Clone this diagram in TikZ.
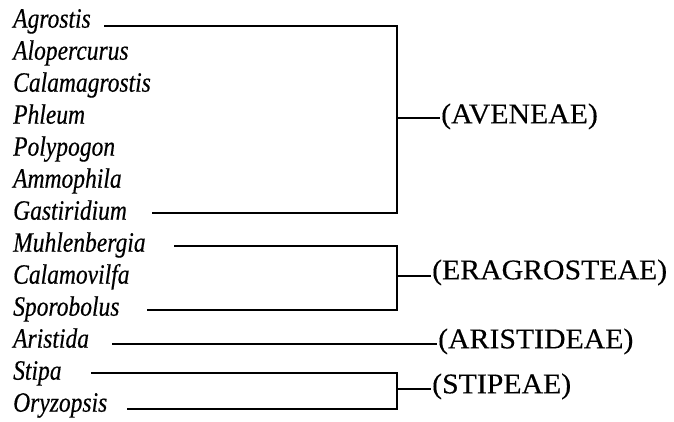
\documentclass[tikz,border=0pt]{standalone}
\usepackage{fontspec}
\setmainfont{Liberation Serif}
\newfontfamily\genusfont{Liberation Serif}[FakeStretch=0.84,FakeBold=0.4]
\newfontfamily\tribefont{Liberation Serif}[FakeStretch=1.045,FakeBold=0.3]
\begin{document}
\begin{tikzpicture}[x=1pt,y=-1pt,
  genus/.style={anchor=base west,inner sep=0pt,font=\genusfont\fontsize{28}{30}\selectfont\itshape},
  tribe/.style={anchor=base west,inner sep=2pt,font=\tribefont\fontsize{28.5}{32}\selectfont},
  link/.style={line width=1.6pt,line cap=rect}]
\useasboundingbox (0,0) rectangle (674,421);
% genera
\node[genus] (g1) at (13,27.7) {Agrostis};
\node[genus] (g2) at (13,59.7) {Alopercurus};
\node[genus] (g3) at (13,91.7) {Calamagrostis};
\node[genus] (g4) at (13,123.7) {Phleum};
\node[genus] (g5) at (13,155.7) {Polypogon};
\node[genus] (g6) at (13,187.7) {Ammophila};
\node[genus] (g7) at (13,219.7) {Gastiridium};
\node[genus] (g8) at (13,251.7) {Muhlenbergia};
\node[genus] (g9) at (13,283.7) {Calamovilfa};
\node[genus] (g10) at (13,315.7) {Sporobolus};
\node[genus] (g11) at (13,347.7) {Aristida};
\node[genus] (g12) at (13,379.7) {Stipa};
\node[genus] (g13) at (13,411.7) {Oryzopsis};
% tribes
\node[tribe] (t1) at (439,123.3) {(AVENEAE)};
\node[tribe] (t2) at (430,279.3) {(ERAGROSTEAE)};
\node[tribe] (t3) at (436,348.3) {(ARISTIDEAE)};
\node[tribe] (t4) at (430,393.3) {(STIPEAE)};
% line starts
\coordinate (s1) at (105,25.7);
\coordinate (s7) at (153,213);
\coordinate (s8) at (175,245.7);
\coordinate (s10) at (148,310);
\coordinate (s11) at (113,344);
\coordinate (s12) at (92,373);
\coordinate (s13) at (128,409);
% bracket joints
\coordinate (b1) at (397,118);
\coordinate (b2) at (397,276);
\coordinate (b4) at (397,389);
% brackets
\draw[link] (s1) -| (b1) |- (s7);
\draw[link] (b1) -- (t1.west |- b1);
\draw[link] (s8) -| (b2) |- (s10);
\draw[link] (b2) -- (t2.west |- b2);
\draw[link] (s11) -- (t3.west |- s11);
\draw[link] (s12) -| (b4) |- (s13);
\draw[link] (b4) -- (t4.west |- b4);
\end{tikzpicture}
\end{document}
